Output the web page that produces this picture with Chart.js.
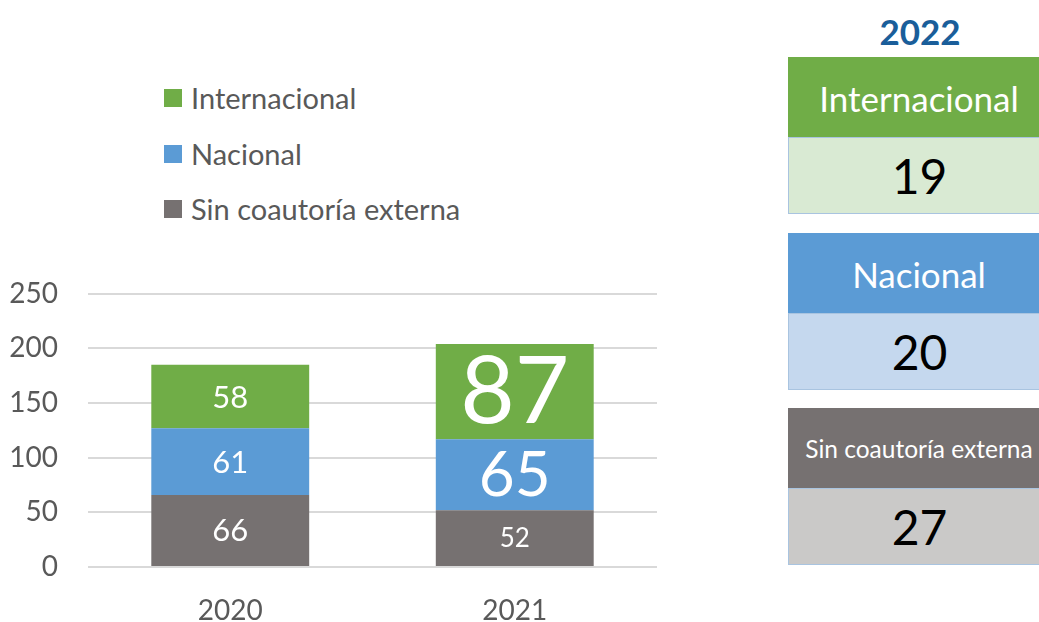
<!DOCTYPE html>
<html>
<head>
<meta charset="utf-8">
<script src="https://cdn.jsdelivr.net/npm/chart.js@4"></script>
<style>
  body { margin: 0; width: 1039px; height: 622px; overflow: hidden; background: #fff; font-family: Lato, "Open Sans", sans-serif; position: relative; }
  #chartBox { position: absolute; left: 0; top: 247px; width: 680px; height: 375px; }
  #legend { position: absolute; left: 164px; top: 83px; color: #595959; font-size: 29px; }
  .item { height: 30px; line-height: 30px; margin-bottom: 25.5px; display: flex; align-items: center; }
  .sw { width: 18px; height: 18px; margin-right: 9px; }
  #panel { position: absolute; left: 788px; top: 0; width: 262px; }
  #year { position: absolute; left: 0; top: 10px; width: 264px; text-align: center; font-weight: bold; font-size: 35px; color: #1A5E9A; }
  .head { position: absolute; left: 0; width: 262px; height: 81px; color: #fff; display: flex; align-items: center; justify-content: center; }
  .val { position: absolute; left: 0; width: 262px; height: 77px; color: #000; font-size: 48px; display: flex; align-items: center; justify-content: center; box-sizing: border-box; border: 1px solid #A9C4E0; border-right: none; }
</style>
</head>
<body>
<div id="legend"></div>
<div id="chartBox"><canvas id="bars"></canvas></div>
<div id="panel"><div id="year"></div></div>
<script>
const years = ['2020', '2021'];
const seriesNames = ['Sin coautoría externa', 'Nacional', 'Internacional'];
const sinCoautoria = [66, 52];
const nacional = [61, 65];
const internacional = [58, 87];
const yTicks = [0, 50, 100, 150, 200, 250];

const panelYear = '2022';
const panelNames = ['Internacional', 'Nacional', 'Sin coautoría externa'];
const panelValues = [19, 20, 27];

const colors = ['#767171', '#5B9BD5', '#70AD47'];
const lightColors = ['#CAC9C8', '#C5D8EE', '#D9EAD3'];

// label font size per dataset / bar
const labelSizes = [[31, 26], [31, 62], [31, 94]];

const valueLabels = {
    id: 'valueLabels',
    afterDatasetsDraw(chart) {
        const ctx = chart.ctx;
        chart.data.datasets.forEach((ds, i) => {
            chart.getDatasetMeta(i).data.forEach((bar, j) => {
                ctx.save();
                ctx.font = labelSizes[i][j] + 'px Lato';
                ctx.fillStyle = '#ffffff';
                ctx.textAlign = 'center';
                ctx.textBaseline = 'middle';
                ctx.fillText(ds.data[j], bar.x, (bar.y + bar.base) / 2 + 1);
                ctx.restore();
            });
        });
    }
};

const barData = [sinCoautoria, nacional, internacional];

new Chart(document.getElementById('bars'), {
    type: 'bar',
    data: {
        labels: years,
        datasets: seriesNames.map((name, i) => ({
            label: name,
            data: barData[i],
            backgroundColor: colors[i],
            borderWidth: 0,
            barPercentage: 0.555,
            categoryPercentage: 1
        }))
    },
    options: {
        responsive: true,
        maintainAspectRatio: false,
        animation: false,
        layout: { padding: { top: 22, right: 23, left: 0, bottom: 0 } },
        plugins: { legend: { display: false }, tooltip: { enabled: false } },
        scales: {
            x: {
                stacked: true,
                grid: { display: false, drawTicks: false },
                border: { display: false },
                ticks: { color: '#595959', font: { family: 'Lato', size: 28 }, padding: 27 },
                afterFit: s => { s.height = 55; }
            },
            y: {
                stacked: true,
                min: 0,
                max: 250,
                afterBuildTicks: s => { s.ticks = yTicks.map(v => ({ value: v })); },
                grid: { color: '#D9D9D9', lineWidth: 2, drawTicks: false },
                border: { display: false },
                ticks: { color: '#595959', font: { family: 'Lato', size: 28 }, padding: 30 },
                afterFit: s => { s.width = 88; }
            }
        }
    },
    plugins: [valueLabels]
});

// legend, top entry first
const legend = document.getElementById('legend');
[2, 1, 0].forEach(i => {
    const row = document.createElement('div');
    row.className = 'item';
    row.innerHTML = '<span class="sw" style="background:' + colors[i] + '"></span>' + seriesNames[i];
    legend.appendChild(row);
});

// 2022 panel
const panel = document.getElementById('panel');
document.getElementById('year').textContent = panelYear;
const headTops = [57, 233, 408];
const headSizes = [35, 35, 24.5];
panelNames.forEach((name, k) => {
    const ci = 2 - k;
    const head = document.createElement('div');
    head.className = 'head';
    head.style.top = headTops[k] + 'px';
    head.style.background = colors[ci];
    head.style.fontSize = headSizes[k] + 'px';
    head.textContent = name;
    panel.appendChild(head);
    const val = document.createElement('div');
    val.className = 'val';
    val.style.top = (headTops[k] + 80) + 'px';
    val.style.background = lightColors[ci];
    val.textContent = panelValues[k];
    panel.appendChild(val);
});
</script>
</body>
</html>
